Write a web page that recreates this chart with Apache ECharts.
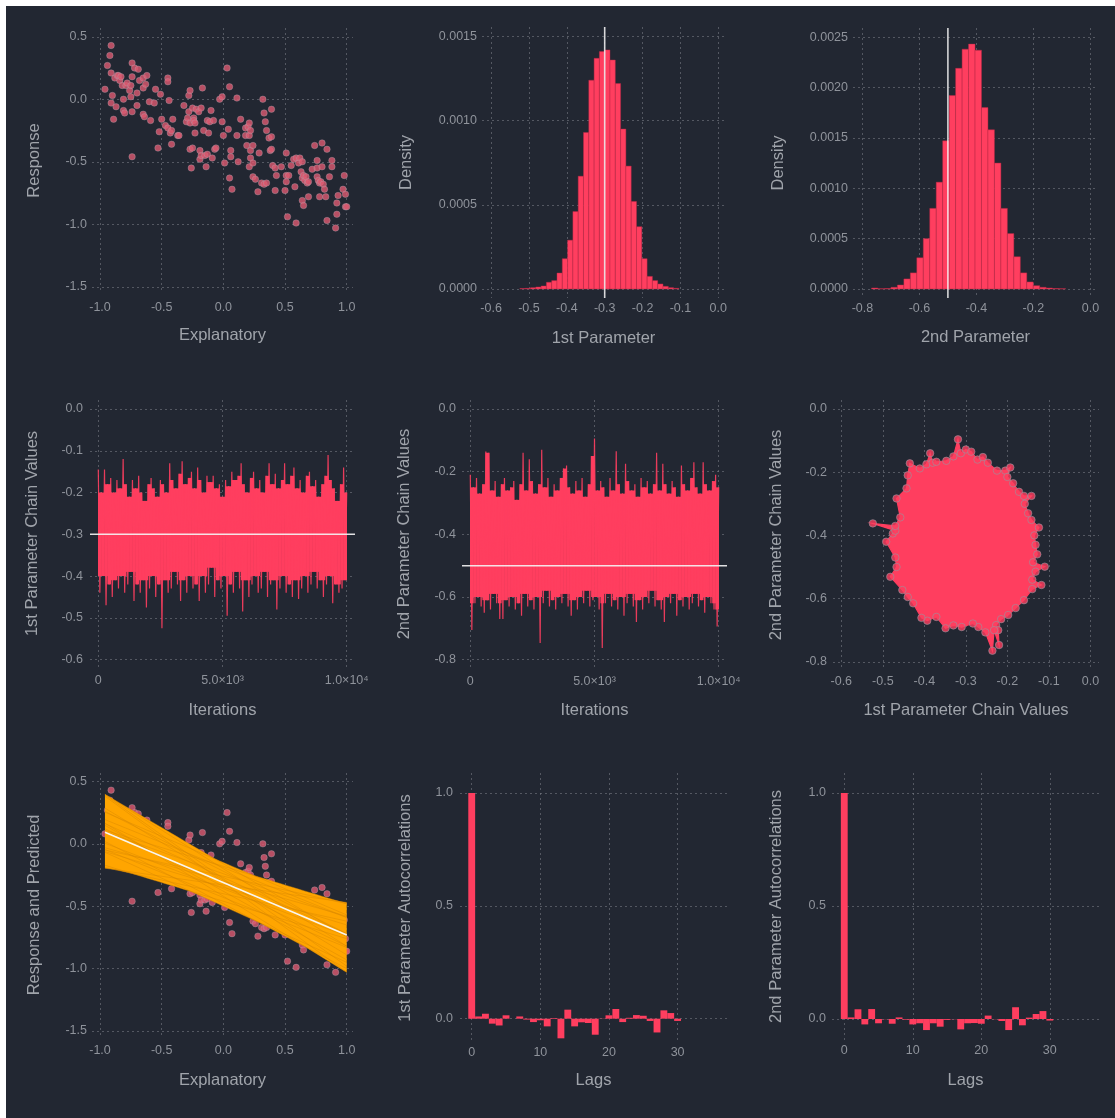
<!DOCTYPE html>
<html><head><meta charset="utf-8">
<script src="https://cdn.jsdelivr.net/npm/echarts@6/dist/echarts.min.js"></script>
<style>
html,body{margin:0;padding:0;background:#ffffff;}
#bg{position:absolute;left:6px;top:6px;width:1109px;height:1112px;background:#222732;}
#chart{position:absolute;left:0;top:0;width:1115px;height:1118px;}
</style></head><body>
<div id="bg"></div><div id="chart"></div>
<script>
// ---------------- data ----------------
const explanatory = [-0.96,-0.94,-0.92,-0.91,-0.91,-0.90,-0.91,-0.89,-0.87,-0.88,
-0.86,-0.85,-0.84,-0.82,-0.83,-0.81,-0.81,-0.80,-0.79,-0.78,
-0.76,-0.75,-0.75,-0.74,-0.74,-0.74,-0.74,-0.72,-0.70,-0.70,
-0.69,-0.68,-0.65,-0.65,-0.65,-0.64,-0.62,-0.63,-0.60,-0.59,
-0.56,-0.55,-0.53,-0.51,-0.50,-0.52,-0.47,-0.45,-0.45,-0.45,
-0.44,-0.43,-0.42,-0.42,-0.41,-0.37,-0.36,-0.32,-0.30,-0.28,
-0.28,-0.27,-0.29,-0.27,-0.27,-0.25,-0.26,-0.25,-0.24,-0.24,
-0.23,-0.23,-0.22,-0.20,-0.19,-0.19,-0.18,-0.18,-0.17,-0.16,
-0.15,-0.14,-0.13,-0.13,-0.12,-0.11,-0.10,-0.09,-0.08,-0.07,
-0.06,-0.03,-0.01,-0.01,0.00,0.01,0.03,0.04,0.05,0.05,
0.06,0.06,0.07,0.11,0.11,0.12,0.14,0.18,0.18,0.19,
0.20,0.21,0.21,0.22,0.21,0.22,0.22,0.24,0.24,0.24,
0.26,0.28,0.29,0.31,0.32,0.33,0.33,0.34,0.35,0.35,
0.37,0.38,0.39,0.39,0.39,0.40,0.42,0.43,0.42,0.47,
0.51,0.50,0.51,0.51,0.52,0.53,0.55,0.57,0.58,0.59,
0.59,0.61,0.62,0.63,0.64,0.64,0.64,0.65,0.65,0.66,
0.67,0.68,0.69,0.69,0.72,0.74,0.76,0.76,0.76,0.77,
0.78,0.78,0.79,0.80,0.80,0.81,0.82,0.83,0.84,0.84,
0.86,0.88,0.88,0.92,0.91,0.92,0.93,0.97,0.98,0.99,
0.99,1.00];
const response = [0.08,0.27,0.35,0.43,0.21,0.03,-0.03,-0.16,-0.06,0.17,
0.19,0.19,0.15,0.11,0.18,0.00,-0.09,-0.11,0.11,0.13,
0.07,0.11,0.02,0.29,-0.10,0.18,-0.46,0.25,-0.05,0.05,
0.24,0.15,0.09,0.17,-0.12,-0.14,0.19,0.12,-0.02,-0.17,
-0.03,0.08,-0.39,0.04,-0.16,-0.26,-0.21,-0.23,0.17,0.14,
-0.01,-0.27,-0.36,-0.25,-0.16,-0.29,-0.29,-0.05,-0.18,-0.10,
0.03,0.07,-0.15,-0.19,-0.40,-0.39,-0.55,-0.07,-0.15,-0.17,
-0.19,-0.27,-0.08,-0.10,-0.41,-0.48,-0.45,-0.07,0.09,-0.25,
-0.45,-0.54,-0.44,-0.17,-0.27,-0.18,-0.09,-0.47,-0.17,-0.40,
-0.39,0.00,0.02,-0.18,-0.29,-0.51,0.25,-0.24,-0.63,0.10,
-0.41,-0.46,-0.72,0.01,-0.29,-0.50,-0.16,-0.29,-0.23,-0.37,
-0.22,-0.19,-0.29,-0.47,-0.54,-0.41,-0.25,-0.62,-0.37,-0.51,
-0.64,-0.74,-0.43,-0.67,0.00,-0.11,-0.68,-0.18,-0.67,-0.25,
-0.31,-0.41,-0.30,-0.08,-0.40,-0.53,-0.55,-0.61,-0.73,-0.54,
-0.43,-0.73,-0.66,-0.61,-0.94,-0.61,-0.53,-0.48,-0.70,-0.99,
-0.47,-0.51,-0.47,-0.58,-0.50,-0.63,-0.81,-0.85,-0.61,-0.65,
-0.62,-0.67,-0.66,-0.78,-0.56,-0.37,-0.49,-0.55,-0.62,-0.65,
-0.78,-0.67,-0.66,-0.54,-0.35,-0.68,-0.72,-0.78,-0.40,-0.97,
-0.62,-0.49,-0.54,-0.83,-1.03,-0.92,-0.77,-0.72,-0.61,-0.86,
-0.76,-0.86];

const trueIntercept = -0.3;
const trueSlope = -0.5;

// histograms (bin start, bin width, densities)
const hist1Start = -0.524, hist1Width = 0.014;
const hist1Density = [0.000003,0.000004,0.000008,0.000012,0.000018,0.00004,0.00005,0.000095,0.00018,0.00029,
0.00046,0.00067,0.00093,0.00124,0.00137,0.00141,0.00142,0.00136,0.00122,0.00095,
0.00073,0.00052,0.00037,0.00018,0.000075,0.00005,0.00003,0.000016,0.000008,0.000004];
const hist2Start = -0.768, hist2Width = 0.0227;
const hist2Density = [0.00001,0.000003,0.000005,0.000017,0.00004,0.0001,0.00016,0.00031,0.0005,0.0008,
0.00106,0.00147,0.00192,0.00219,0.00238,0.00243,0.00237,0.0018,0.00158,0.00125,
0.0008,0.00055,0.00032,0.00016,0.00007,0.000033,0.000017,0.00001,0.000005,0.000003];

// chain traces: alternating local highs and lows, one pair every traceStep iterations
const traceStep = 125;
const trace1High = [-0.145,-0.20,-0.145,-0.18,-0.165,-0.20,-0.17,-0.19,-0.12,-0.18,
-0.21,-0.17,-0.19,-0.16,-0.20,-0.22,-0.18,-0.165,-0.19,-0.21,
-0.17,-0.18,-0.20,-0.13,-0.17,-0.19,-0.155,-0.125,-0.18,-0.165,
-0.15,-0.19,-0.14,-0.17,-0.20,-0.16,-0.175,-0.16,-0.19,-0.18,
-0.21,-0.17,-0.185,-0.15,-0.17,-0.16,-0.13,-0.18,-0.20,-0.165,
-0.15,-0.19,-0.17,-0.20,-0.16,-0.13,-0.18,-0.155,-0.19,-0.17,
-0.13,-0.18,-0.16,-0.14,-0.19,-0.17,-0.20,-0.16,-0.15,-0.185,
-0.17,-0.21,-0.18,-0.16,-0.11,-0.17,-0.19,-0.22,-0.18,-0.14,-0.20];
const trace1Low = [-0.44,-0.40,-0.47,-0.42,-0.45,-0.41,-0.43,-0.40,-0.44,-0.42,
-0.39,-0.46,-0.42,-0.44,-0.41,-0.475,-0.43,-0.40,-0.45,-0.42,
-0.525,-0.41,-0.44,-0.43,-0.39,-0.42,-0.46,-0.41,-0.44,-0.40,
-0.43,-0.42,-0.46,-0.40,-0.44,-0.42,-0.38,-0.45,-0.41,-0.43,
-0.40,-0.495,-0.42,-0.44,-0.39,-0.43,-0.485,-0.41,-0.45,-0.42,
-0.40,-0.44,-0.43,-0.39,-0.45,-0.42,-0.41,-0.48,-0.43,-0.40,
-0.44,-0.42,-0.45,-0.41,-0.455,-0.43,-0.40,-0.44,-0.42,-0.39,
-0.43,-0.41,-0.45,-0.42,-0.40,-0.465,-0.42,-0.44,-0.43,-0.41];
const trace2High = [-0.21,-0.25,-0.22,-0.27,-0.24,-0.136,-0.14,-0.26,-0.23,-0.28,
-0.24,-0.22,-0.26,-0.25,-0.23,-0.29,-0.24,-0.14,-0.26,-0.16,
-0.23,-0.27,-0.24,-0.13,-0.25,-0.22,-0.28,-0.24,-0.26,-0.22,
-0.19,-0.18,-0.25,-0.27,-0.23,-0.26,-0.22,-0.28,-0.24,-0.15,
-0.094,-0.26,-0.23,-0.25,-0.28,-0.22,-0.26,-0.135,-0.24,-0.27,
-0.175,-0.23,-0.26,-0.24,-0.28,-0.22,-0.25,-0.23,-0.27,-0.24,
-0.14,-0.26,-0.175,-0.24,-0.27,-0.23,-0.25,-0.28,-0.18,-0.24,
-0.26,-0.22,-0.17,-0.25,-0.27,-0.17,-0.24,-0.26,-0.23,-0.21,-0.25];
const trace2Low = [-0.705,-0.62,-0.60,-0.63,-0.65,-0.61,-0.64,-0.59,-0.62,-0.67,
-0.67,-0.61,-0.63,-0.60,-0.64,-0.62,-0.66,-0.59,-0.63,-0.61,
-0.64,-0.60,-0.747,-0.62,-0.58,-0.63,-0.61,-0.64,-0.60,-0.62,
-0.59,-0.63,-0.66,-0.61,-0.64,-0.60,-0.62,-0.58,-0.63,-0.61,
-0.60,-0.64,-0.763,-0.62,-0.59,-0.63,-0.61,-0.64,-0.60,-0.66,
-0.62,-0.59,-0.63,-0.68,-0.61,-0.64,-0.60,-0.62,-0.58,-0.63,
-0.61,-0.64,-0.68,-0.60,-0.62,-0.59,-0.66,-0.61,-0.63,-0.60,
-0.64,-0.62,-0.59,-0.63,-0.61,-0.65,-0.60,-0.62,-0.64,-0.694];

// joint chain: outline of the cloud of (1st, 2nd) chain values, incl. stray excursions
const chainX = [-0.347,-0.330,-0.319,-0.312,-0.300,-0.287,-0.272,-0.259,-0.247,-0.225,
-0.205,-0.193,-0.200,-0.186,-0.172,-0.160,-0.142,-0.158,-0.150,-0.142,
-0.124,-0.135,-0.132,-0.128,-0.138,-0.110,-0.132,-0.140,-0.118,-0.140,
-0.160,-0.180,-0.198,-0.215,-0.227,-0.222,-0.220,-0.232,-0.236,-0.253,
-0.270,-0.283,-0.310,-0.330,-0.349,-0.371,-0.393,-0.407,-0.427,-0.440,
-0.453,-0.482,-0.467,-0.470,-0.492,-0.476,-0.470,-0.524,-0.470,-0.458,
-0.467,-0.443,-0.440,-0.435,-0.411,-0.395,-0.386,-0.380,-0.371];
const chainY = [-0.164,-0.150,-0.096,-0.140,-0.128,-0.135,-0.160,-0.152,-0.170,-0.195,
-0.195,-0.185,-0.215,-0.235,-0.262,-0.275,-0.275,-0.300,-0.330,-0.351,
-0.375,-0.400,-0.430,-0.460,-0.485,-0.499,-0.515,-0.540,-0.557,-0.570,
-0.605,-0.630,-0.652,-0.665,-0.684,-0.700,-0.747,-0.700,-0.765,-0.707,
-0.690,-0.679,-0.690,-0.685,-0.694,-0.658,-0.670,-0.661,-0.615,-0.595,
-0.573,-0.531,-0.500,-0.470,-0.420,-0.394,-0.385,-0.362,-0.370,-0.343,
-0.283,-0.251,-0.210,-0.172,-0.188,-0.175,-0.140,-0.170,-0.167];

// posterior regression lines (intercept, slope) and posterior mean
const predIntercepts = [-0.16,-0.20,-0.28,-0.31,-0.42,-0.48,-0.50,-0.46,-0.40,-0.33,-0.26,-0.18,
-0.15,-0.22,-0.36,-0.27,-0.38,-0.24,-0.34,-0.30,-0.43,-0.19,-0.29,-0.35];
const predSlopes = [-0.58,-0.62,-0.70,-0.72,-0.61,-0.52,-0.45,-0.30,-0.22,-0.14,-0.22,-0.30,
-0.42,-0.50,-0.38,-0.45,-0.55,-0.35,-0.48,-0.28,-0.40,-0.40,-0.60,-0.30];
const meanIntercept = -0.31;
const meanSlope = -0.42;

// autocorrelations
const lags = [0,1,2,3,4,5,6,7,8,9,10,11,12,13,14,15,16,17,18,19,20,21,22,23,24,25,26,27,28,29,30];
const acf1 = [1.0,0.01,0.022,-0.022,-0.03,0.015,0.0,0.01,-0.004,-0.015,-0.007,-0.034,0.003,-0.087,0.04,-0.034,
-0.016,-0.019,-0.071,-0.001,0.015,0.043,-0.015,0.004,0.016,0.013,-0.01,-0.061,0.037,0.025,-0.01];
const acf2 = [1.0,0.007,0.043,-0.024,0.044,-0.019,-0.001,-0.021,0.007,-0.003,-0.024,-0.019,-0.049,-0.019,-0.034,-0.004,
-0.001,-0.046,-0.019,-0.018,-0.021,0.015,-0.001,-0.009,-0.049,0.052,-0.028,0.006,0.022,0.035,-0.007];

// tick values
const ticksUnitX = [-1.0,-0.5,0.0,0.5,1.0];
const ticksResponseY = [-1.5,-1.0,-0.5,0.0,0.5];
const ticksHist1X = [-0.6,-0.5,-0.4,-0.3,-0.2,-0.1,0.0];
const ticksHist1Y = [0,0.0005,0.0010,0.0015];
const ticksHist2X = [-0.8,-0.6,-0.4,-0.2,0.0];
const ticksHist2Y = [0,0.0005,0.0010,0.0015,0.0020,0.0025];
const ticksIter = [0,5000,10000];
const iterLabels = {0:'0',5000:'5.0×10³',10000:'1.0×10⁴'};
const ticksTrace1Y = [-0.6,-0.5,-0.4,-0.3,-0.2,-0.1,0.0];
const ticksTrace2Y = [-0.8,-0.6,-0.4,-0.2,0.0];
const ticksJointX = [-0.6,-0.5,-0.4,-0.3,-0.2,-0.1,0.0];
const ticksJointY = [-0.8,-0.6,-0.4,-0.2,0.0];
const ticksLags = [0,10,20,30];
const ticksAcfY = [0.0,0.5,1.0];

// ---------------- styling ----------------
const PINK = '#ff3e5f';
const POINT = '#dd5a70';
const ORANGE = '#ffa500';
const TICKC = '#8f939b';
const NAMEC = '#a0a4ab';
const GRIDC = 'rgba(125,129,139,0.55)';
const FONT = '"Liberation Sans", Arial, Helvetica, sans-serif';

const grids = [
  {left:92, top:28, width:261, height:265},
  {left:482, top:27, width:243, height:271},
  {left:853, top:28, width:245, height:270},
  {left:90, top:400, width:265, height:267},
  {left:462, top:400, width:265, height:268},
  {left:833, top:400, width:266, height:270},
  {left:92, top:773, width:261, height:264},
  {left:460, top:773, width:267, height:270},
  {left:832, top:773, width:267, height:267}
];

const f1 = v => v.toFixed(1);
const f4 = v => v.toFixed(4);
const fi = v => iterLabels[v] !== undefined ? iterLabels[v] : String(v);
const fl = v => String(Math.round(v));

function axis(gi, min, max, ticks, fmt, name, gap, margin) {
  return {
    type:'value', gridIndex:gi, min:min, max:max,
    name:name, nameLocation:'middle', nameGap:gap,
    nameTextStyle:{color:NAMEC, fontSize:16.5, fontFamily:FONT},
    axisLine:{show:false},
    axisTick:{show:false, customValues:ticks},
    axisLabel:{customValues:ticks, formatter:fmt, color:TICKC, fontSize:12.5, fontFamily:FONT, margin:margin},
    splitLine:{show:true, lineStyle:{color:GRIDC, type:[2,3], width:1}}
  };
}

const xAxes = [
  axis(0, -1.065, 1.051, ticksUnitX, f1, 'Explanatory', 34, 8),
  axis(1, -0.624, 0.0177, ticksHist1X, f1, '1st Parameter', 32, 4),
  axis(2, -0.833, 0.0267, ticksHist2X, f1, '2nd Parameter', 31, 4),
  axis(3, -334, 10334, ticksIter, fi, 'Iterations', 35, 7),
  axis(4, -334, 10334, ticksIter, fi, 'Iterations', 34, 7),
  axis(5, -0.620, 0.0207, ticksJointX, f1, '1st Parameter Chain Values', 32, 5),
  axis(6, -1.065, 1.051, ticksUnitX, f1, 'Explanatory', 35, 7),
  axis(7, -1.707, 37.2, ticksLags, fl, 'Lags', 29, 3),
  axis(8, -1.79, 37.18, ticksLags, fl, 'Lags', 32, 4)
];
const yAxes = [
  axis(0, -1.55, 0.57, ticksResponseY, f1, 'Response', 49, 5),
  axis(1, -0.0000534, 0.001556, ticksHist1Y, f4, 'Density', 67, 5),
  axis(2, -0.0000893, 0.00259, ticksHist2Y, f4, 'Density', 66, 5),
  axis(3, -0.6178, 0.0216, ticksTrace1Y, f1, '1st Parameter Chain Values', 49, 7),
  axis(4, -0.8265, 0.0287, ticksTrace2Y, f1, '2nd Parameter Chain Values', 49, 6),
  axis(5, -0.826, 0.0285, ticksJointY, f1, '2nd Parameter Chain Values', 48, 6),
  axis(6, -1.548, 0.5675, ticksResponseY, f1, 'Response and Predicted', 49, 5),
  axis(7, -0.1077, 1.0886, ticksAcfY, f1, '1st Parameter Autocorrelations', 46, 7),
  axis(8, -0.093, 1.0886, ticksAcfY, f1, '2nd Parameter Autocorrelations', 47, 6)
];

// ---------------- series builders ----------------
const scatterData = explanatory.map((x, i) => [x, response[i]]);

function scatterSeries(gi) {
  return {type:'scatter', xAxisIndex:gi, yAxisIndex:gi, data:scatterData, symbolSize:6.5,
    itemStyle:{color:POINT, borderColor:'rgba(170,170,180,0.55)', borderWidth:0.8}, z:2};
}

function histSeries(gi, start, width, dens) {
  const data = dens.map((d, i) => [start + i * width, start + (i + 1) * width, d]);
  return {type:'custom', xAxisIndex:gi, yAxisIndex:gi, data:data, encode:{x:[0,1], y:2}, clip:true,
    renderItem:function(params, api) {
      const p0 = api.coord([api.value(0), 0]);
      const p1 = api.coord([api.value(1), api.value(2)]);
      return {type:'rect', shape:{x:p0[0], y:p1[1], width:p1[0]-p0[0], height:p0[1]-p1[1]},
        style:{fill:PINK, stroke:'rgba(185,40,70,0.75)', lineWidth:0.6}};
    }, z:2};
}

function vline(gi, x, ymin, ymax) {
  return {type:'line', xAxisIndex:gi, yAxisIndex:gi, data:[[x, ymin],[x, ymax]], showSymbol:false,
    lineStyle:{color:'rgba(245,245,245,0.85)', width:1.6}, z:5, silent:true};
}
function hline(gi, y, xmin, xmax) {
  return {type:'line', xAxisIndex:gi, yAxisIndex:gi, data:[[xmin, y],[xmax, y]], showSymbol:false,
    lineStyle:{color:'rgba(245,245,245,0.9)', width:1.6}, z:5, silent:true};
}

// solid core of a dense trace: between neighbouring highs and lows
function traceCore(gi, hi, lo) {
  const data = [];
  for (let i = 0; i < lo.length; i++) {
    const top = Math.min(hi[i], hi[i + 1]);
    const bot = Math.max(lo[i], i > 0 ? lo[i - 1] : lo[i], i + 1 < lo.length ? lo[i + 1] : lo[i]);
    data.push([i * traceStep, (i + 1) * traceStep, top, bot]);
  }
  return {type:'custom', xAxisIndex:gi, yAxisIndex:gi, data:data, encode:{x:[0,1], y:[2,3]}, clip:true,
    renderItem:function(params, api) {
      const a = api.coord([api.value(0), api.value(2)]);
      const b = api.coord([api.value(1), api.value(3)]);
      return {type:'rect', shape:{x:a[0] - 0.3, y:a[1], width:b[0]-a[0] + 0.6, height:b[1]-a[1]},
        style:{fill:PINK}};
    }, z:2};
}

function traceSeries(gi, hi, lo) {
  const data = [];
  for (let i = 0; i < hi.length; i++) {
    data.push([i * traceStep, hi[i]]);
    if (i < lo.length) data.push([i * traceStep + traceStep / 2, lo[i]]);
  }
  return {type:'line', xAxisIndex:gi, yAxisIndex:gi, data:data, showSymbol:false, sampling:null,
    lineStyle:{color:PINK, width:1.2, opacity:0.9}, z:3};
}

function acfSeries(gi, vals) {
  const data = lags.map((l, i) => [l, vals[i]]);
  return {type:'custom', xAxisIndex:gi, yAxisIndex:gi, data:data, encode:{x:0, y:1}, clip:true,
    renderItem:function(params, api) {
      const l = api.value(0), v = api.value(1);
      const a = api.coord([l - 0.5, 0]);
      const b = api.coord([l + 0.5, v]);
      return {type:'rect', shape:{x:a[0], y:Math.min(a[1], b[1]), width:b[0]-a[0], height:Math.abs(a[1]-b[1])},
        style:{fill:PINK}};
    }, z:2};
}

const xLo = Math.min.apply(null, explanatory), xHi = Math.max.apply(null, explanatory);

const series = [
  // panel 1
  scatterSeries(0),
  // panel 2
  histSeries(1, hist1Start, hist1Width, hist1Density),
  vline(1, trueIntercept, yAxes[1].min, yAxes[1].max),
  // panel 3
  histSeries(2, hist2Start, hist2Width, hist2Density),
  vline(2, trueSlope, yAxes[2].min, yAxes[2].max),
  // panel 4
  traceCore(3, trace1High, trace1Low),
  traceSeries(3, trace1High, trace1Low),
  hline(3, trueIntercept, xAxes[3].min, xAxes[3].max),
  // panel 5
  traceCore(4, trace2High, trace2Low),
  traceSeries(4, trace2High, trace2Low),
  hline(4, trueSlope, xAxes[4].min, xAxes[4].max),
  // panel 6: joint chain cloud
  {type:'custom', xAxisIndex:5, yAxisIndex:5, data:[[chainX[0], chainY[0]]], encode:{x:0, y:1}, clip:true,
    renderItem:function(params, api) {
      const pts = chainX.map((x, i) => api.coord([x, chainY[i]]));
      return {type:'polygon', shape:{points:pts}, style:{fill:PINK, stroke:PINK, lineWidth:1.2}};
    }, z:2},
  {type:'scatter', xAxisIndex:5, yAxisIndex:5, data:chainX.map((x, i) => [x, chainY[i]]), symbolSize:7.5,
    itemStyle:{color:PINK, borderColor:'rgba(150,150,160,0.75)', borderWidth:1}, z:3},
  // panel 7
  scatterSeries(6),
  {type:'custom', xAxisIndex:6, yAxisIndex:6, data:[[xLo, meanIntercept]], encode:{x:0, y:1}, clip:true,
    renderItem:function(params, api) {
      const n = 40, up = [], dn = [];
      for (let k = 0; k <= n; k++) {
        const x = xLo + (xHi - xLo) * k / n;
        let mx = -Infinity, mn = Infinity;
        for (let j = 0; j < predIntercepts.length; j++) {
          const y = predIntercepts[j] + predSlopes[j] * x;
          if (y > mx) mx = y; if (y < mn) mn = y;
        }
        up.push(api.coord([x, mx])); dn.push(api.coord([x, mn]));
      }
      return {type:'polygon', shape:{points:up.concat(dn.reverse())}, style:{fill:ORANGE}};
    }, z:3},
  {type:'custom', xAxisIndex:6, yAxisIndex:6, data:predIntercepts.map((a, i) => [a, predSlopes[i]]),
    encode:{x:0, y:1}, clip:true,
    renderItem:function(params, api) {
      const a = api.value(0), b = api.value(1);
      const p = api.coord([xLo, a + b * xLo]), q = api.coord([xHi, a + b * xHi]);
      return {type:'line', shape:{x1:p[0], y1:p[1], x2:q[0], y2:q[1]}, style:{stroke:'rgba(215,135,0,0.55)', lineWidth:0.8}};
    }, z:4},
  {type:'line', xAxisIndex:6, yAxisIndex:6, data:[[xLo, meanIntercept + meanSlope * xLo],[xHi, meanIntercept + meanSlope * xHi]],
    showSymbol:false, lineStyle:{color:'rgba(250,250,250,0.95)', width:1.6}, z:5},
  // panel 8, 9
  acfSeries(7, acf1),
  acfSeries(8, acf2)
];

const chart = echarts.init(document.getElementById('chart'), null, {renderer:'canvas'});
chart.setOption({
  backgroundColor:'transparent',
  animation:false,
  grid:grids.map(g => Object.assign({containLabel:false}, g)),
  xAxis:xAxes,
  yAxis:yAxes,
  series:series
});
</script>
</body></html>
